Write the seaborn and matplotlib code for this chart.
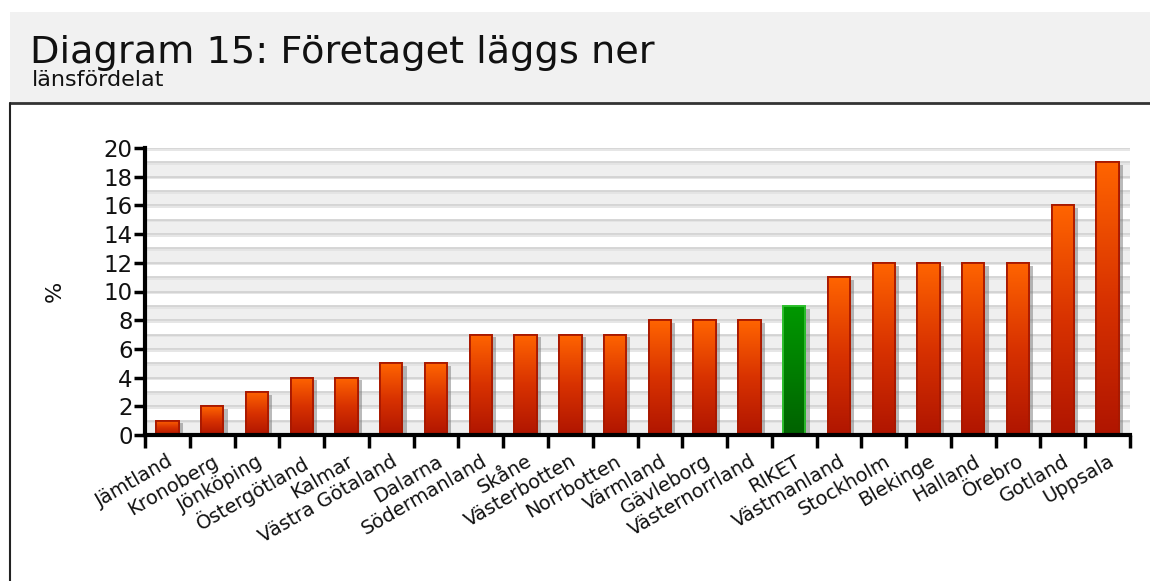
import numpy as np
import matplotlib
matplotlib.use("Agg")
import matplotlib.pyplot as plt
import matplotlib.patheffects as pe
from matplotlib.patches import Rectangle
from matplotlib.lines import Line2D
from matplotlib.colors import LinearSegmentedColormap
import seaborn as sns
import pandas as pd

# Data
regions = ["Jämtland", "Kronoberg", "Jönköping", "Östergötland", "Kalmar",
           "Västra Götaland", "Dalarna", "Södermanland", "Skåne", "Västerbotten",
           "Norrbotten", "Värmland", "Gävleborg", "Västernorrland", "RIKET",
           "Västmanland", "Stockholm", "Blekinge", "Halland", "Örebro",
           "Gotland", "Uppsala"]
percent = [1, 2, 3, 4, 4, 5, 5, 7, 7, 7, 7, 8, 8, 8, 9, 11, 12, 12, 12, 12, 16, 19]
y_ticks = list(range(0, 21, 2))

sns.set_style("white")
plt.rcParams['font.family'] = ['DejaVu Sans']

df = pd.DataFrame({"region": regions, "percent": percent})

fig = plt.figure(figsize=(11.5, 5.81), dpi=100)

# header band and frame
fig.patches.append(Rectangle((10 / 1150, 1 - 103 / 581), 1 - 10 / 1150, 91 / 581,
                             transform=fig.transFigure, facecolor="#f1f1f1",
                             edgecolor="none", zorder=0))
fig.lines.append(Line2D([10 / 1150, 1], [1 - 103 / 581] * 2, transform=fig.transFigure,
                        color="#333333", lw=2))
fig.lines.append(Line2D([10 / 1150] * 2, [0, 1 - 103 / 581], transform=fig.transFigure,
                        color="#222222", lw=1.5))
fig.text(30 / 1150, 1 - 63 / 581, "Diagram 15: Företaget läggs ner", fontsize=27.5,
         color="#111111", va="baseline")
fig.text(32 / 1150, 1 - 86 / 581, "länsfördelat", fontsize=16, color="#111111",
         va="baseline")

ax = fig.add_axes([145 / 1150, 1 - 435 / 581, (1130 - 145) / 1150, (435 - 148) / 581])

# striped background
for k in range(20):
    ax.axhspan(k, k + 1, color="#efefef" if k % 2 == 0 else "white", zorder=0, lw=0)
for k in range(1, 21):
    ax.axhline(k, color="#d0d0d0", lw=1.2, zorder=0.5,
               path_effects=[pe.SimpleLineShadow(offset=(0, -1.2), shadow_color="#e2e2e2", alpha=1),
                             pe.Normal()])

palette = ["#1a9a1a" if r == "RIKET" else "#e04000" for r in regions]
sns.barplot(data=df, x="region", y="percent", hue="region", palette=palette,
            legend=False, width=0.5, ax=ax, zorder=2)

bars = [p for c in ax.containers for p in c]

grad = np.linspace(0, 1, 100).reshape(-1, 1)
red_cmap = LinearSegmentedColormap.from_list("r", ["#b01500", "#d83200", "#ff6400"])
green_cmap = LinearSegmentedColormap.from_list("g", ["#006200", "#007e00", "#009800"])
for patch, r in zip(bars, regions):
    x0, y0 = patch.get_x(), patch.get_y()
    w, h = patch.get_width(), patch.get_height()
    green = r == "RIKET"
    edge = "#30c030" if green else "#a81800"
    patch.set_edgecolor(edge)
    patch.set_linewidth(1.3)
    patch.set_path_effects([pe.SimplePatchShadow(offset=(3, -2), shadow_rgbFace="#777777",
                                                 alpha=0.5), pe.Normal()])
    im = ax.imshow(grad, extent=(x0, x0 + w, y0, y0 + h), origin="lower",
                   cmap=green_cmap if green else red_cmap, aspect="auto", zorder=2.5)
    im.set_clip_path(patch)
    ax.add_patch(Rectangle((x0, y0), w, h, fill=False, edgecolor=edge, lw=1.3, zorder=3))
    ax.plot([x0, x0 + w], [y0 + 0.05, y0 + 0.05], color="#2ad02a" if green else "#ff9040",
            lw=2, zorder=3.1, solid_capstyle="butt")

ax.set_xlim(-0.5, len(regions) - 0.5)
ax.set_ylim(0, 20)
ax.set_aspect("auto")
ax.set_yticks(y_ticks)
ax.set_yticklabels([str(v) for v in y_ticks], fontsize=16.5, color="#111111")
ax.set_xticks(range(len(regions)))
ax.set_xticklabels(regions, rotation=30, ha="right", rotation_mode="anchor",
                   fontsize=14, color="#111111")
ax.set_xticks(np.arange(-0.5, len(regions)), minor=True)
ax.tick_params(axis="x", which="major", bottom=True, length=0, pad=12)
ax.tick_params(axis="x", which="minor", bottom=True, length=9, width=2.5, color="black",
               direction="out")
ax.tick_params(axis="y", left=True, length=8, width=2.5, color="black", direction="out", pad=1)
ax.set_xlabel("")
ax.set_ylabel("%", fontsize=16, labelpad=28, color="#111111")
for s in ["top", "right"]:
    ax.spines[s].set_visible(False)
for s in ["left", "bottom"]:
    ax.spines[s].set_linewidth(3)
    ax.spines[s].set_color("black")
    ax.spines[s].set_zorder(5)

fig.savefig("out.png", dpi=100)
